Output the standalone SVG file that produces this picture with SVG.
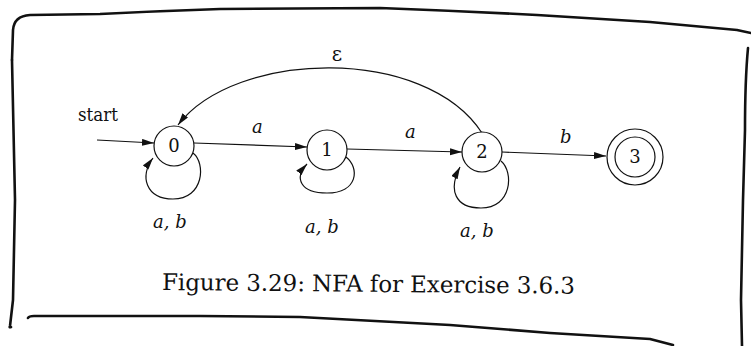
<svg xmlns="http://www.w3.org/2000/svg" width="751" height="346" viewBox="0 0 751 346">
<style>
.frame{fill:none;stroke:#111;stroke-width:2.6;stroke-linecap:round;stroke-linejoin:round}
.st{fill:#fff;stroke:#111;stroke-width:1.2}
.edge{fill:none;stroke:#111;stroke-width:1.2;marker-end:url(#ah)}
text{font-family:"DejaVu Serif","Liberation Serif",serif;fill:#111}
.num{font-size:18px;text-anchor:middle}
.lbl{font-style:italic;font-size:18px}
.txt{font-size:18px}
.eps{font-size:20px;text-anchor:middle}
.cap{font-size:23px}
</style>
<defs>
<marker id="ah" markerUnits="userSpaceOnUse" markerWidth="13" markerHeight="8" refX="12" refY="3.5" orient="auto">
<path d="M0,0 L12,3.5 L0,7 Z" fill="#111"/>
</marker>
</defs>
<rect width="751" height="346" fill="#fff"/>
<g id="frame">
<path class="frame" d="M12,60 L13,30 Q14,16 30,15 L100,14 Q160,11 220,9 L380,8 Q460,11 537,15 L650,22 L737,30 L751,33"/>
<path class="frame" d="M748,48 Q745,80 745,130 L743,200 L741,300 L742,346"/>
<path class="frame" d="M12,60 L15,200 L13,300 L10,326 Q9,328 11,327"/>
<path class="frame" d="M28,318 Q29,316 34,316 L200,316 L300,317 L450,325 L550,333 L650,339 L673,345"/>
</g>
<g id="connectors">
<path class="edge" d="M97,140 L154,143"/>
<path class="edge" d="M194,143 L307,147"/>
<path class="edge" d="M347,149 L462,152"/>
<path class="edge" d="M502,152 L606,156"/>
<path class="edge" d="M482,133 C425,45 235,50 178,125"/>
<path class="edge" d="M193,153 C206,163 204,199 173,199 C146,199 139,176 153,158"/>
<path class="edge" d="M346,157 C360,168 358,193 327,193 C300,193 294,178 307,164"/>
<path class="edge" d="M501,161 C514,172 512,208 481,208 C455,208 448,190 460,167"/>
<text class="txt" x="78" y="121" textLength="40" lengthAdjust="spacingAndGlyphs">start</text>
<text class="lbl" x="252" y="133">a</text>
<text class="lbl" x="405" y="138">a</text>
<text class="lbl" x="560" y="143">b</text>
<text class="eps" x="337" y="61">ε</text>
<text class="lbl" x="153" y="228">a, b</text>
<text class="lbl" x="305" y="233">a, b</text>
<text class="lbl" x="460" y="237">a, b</text>
</g>
<g id="s0">
<circle class="st" cx="174" cy="146" r="20"/>
<text class="num" x="174" y="152">0</text>
</g>
<g id="s1">
<circle class="st" cx="327" cy="150" r="20"/>
<text class="num" x="327" y="156">1</text>
</g>
<g id="s2">
<circle class="st" cx="482" cy="152" r="20"/>
<text class="num" x="482" y="158">2</text>
</g>
<g id="s3">
<circle class="st" cx="635" cy="157" r="28"/>
<circle class="st" cx="635" cy="157" r="20"/>
<text class="num" x="635" y="163">3</text>
</g>
<g id="caption">
<text class="cap" x="162" y="290" textLength="413" lengthAdjust="spacing" transform="rotate(0.5 162 290)">Figure 3.29: NFA for Exercise 3.6.3</text>
</g>
</svg>
